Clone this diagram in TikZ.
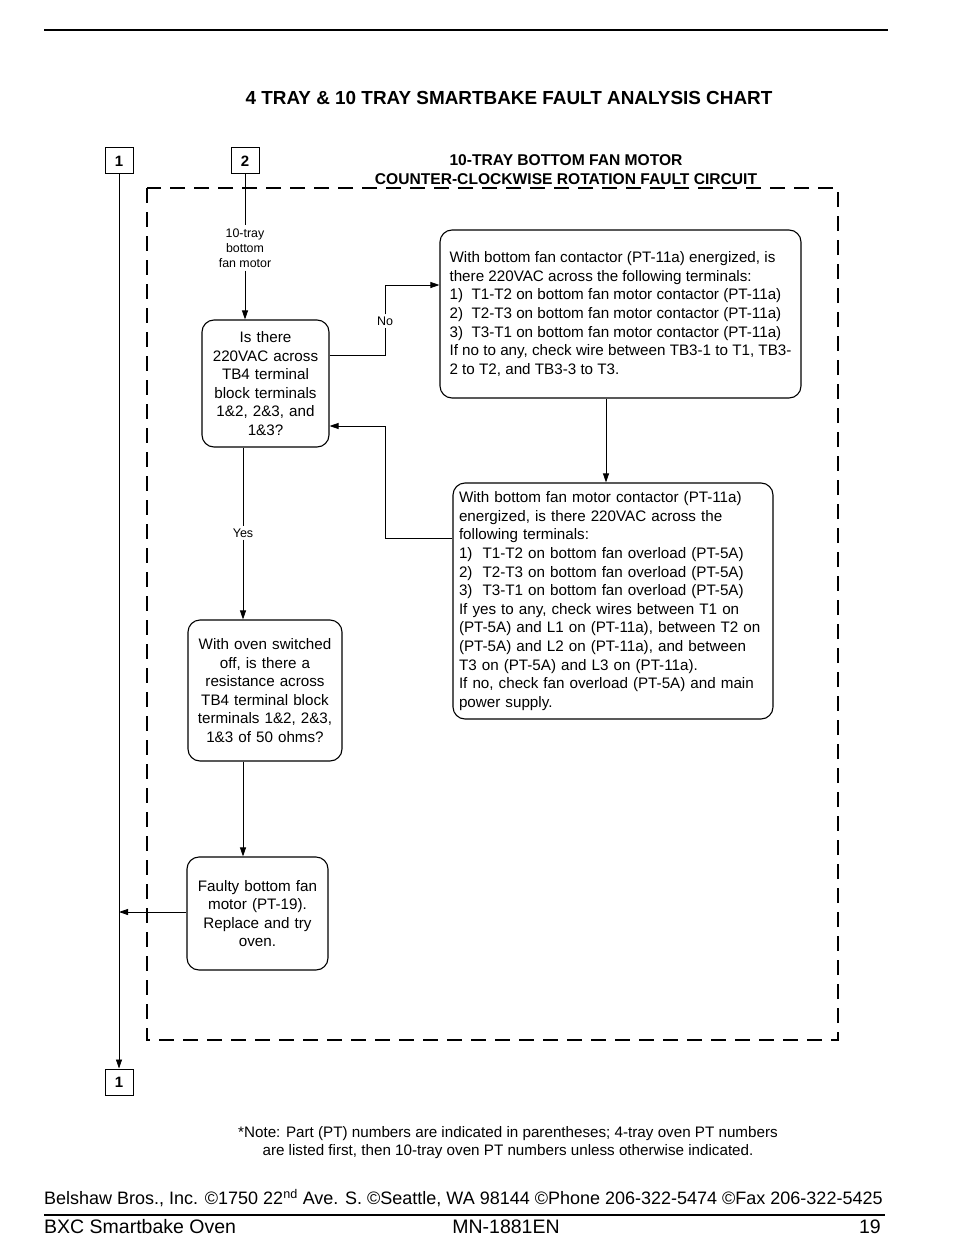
\documentclass[tikz,border=0pt]{standalone}
\usepackage{fontspec}
\setmainfont{Liberation Sans}
\usetikzlibrary{arrows.meta}
\begin{document}
\begin{tikzpicture}[x=1pt,y=-1pt,
  every node/.style={inner sep=0pt},
  body/.style={font=\fontsize{15.2}{18.6}\selectfont},
  rbox/.style={draw, rounded corners=12pt, line width=1.1pt, body},
  lbox/.style={rbox, align=left, inner xsep=6pt},
  cbox/.style={rbox, align=center},
  numbox/.style={draw, line width=1pt, minimum width=28pt, minimum height=26pt, font=\bfseries\fontsize{15}{17}\selectfont},
  conn/.style={line width=0.8pt},
  arr/.style={conn, -{Triangle[length=9pt,width=6pt]}},
  small/.style={font=\fontsize{12.4}{15}\selectfont, align=center},
  lab/.style={font=\fontsize{12.5}{14}\selectfont, inner sep=2pt}
]
\useasboundingbox (0,0) rectangle (954,1260);

% top rule
\coordinate (tr1) at (44,30);
\coordinate (tr2) at (888,30);
\draw[line width=1.4pt] (tr1) -- (tr2);

\node[font=\bfseries\fontsize{18.9}{21}\selectfont] (title) at (509,98) {4 TRAY \& 10 TRAY SMARTBAKE FAULT ANALYSIS CHART};

% dashed frame
\coordinate (f1) at (147,188);
\coordinate (f2) at (838,1040);
\draw[line width=2.8pt, dash pattern=on 15pt off 9pt] (f1) rectangle (f2);

\node[font=\bfseries\fontsize{15.6}{19}\selectfont, align=center] (sub) at (566,170) {10-TRAY BOTTOM FAN MOTOR\\COUNTER-CLOCKWISE ROTATION FAULT CIRCUIT};

% number boxes
\node[numbox] (b1) at (119,161) {1};
\node[numbox] (b2) at (245,161) {2};
\node[numbox] (b1b) at (119,1082) {1};

% label
\node[small, inner sep=3pt] (lbl) at (245,248) {10-tray\\bottom\\fan motor};

% boxes
\node[cbox, minimum width=127pt, minimum height=127pt, text width=122pt] (A) at (265.5,383.5)
  {Is there\\220VAC across\\TB4 terminal\\block terminals\\1\&2, 2\&3, and\\1\&3?};
\node[rbox, align=left, minimum width=361pt, minimum height=168pt] (B) at (620.5,314)
  {With bottom fan contactor (PT-11a) energized, is\\
   there 220VAC across the following terminals:\\
   1)\ \ T1-T2 on bottom fan motor contactor (PT-11a)\\
   2)\ \ T2-T3 on bottom fan motor contactor (PT-11a)\\
   3)\ \ T3-T1 on bottom fan motor contactor (PT-11a)\\
   If no to any, check wire between TB3-1 to T1, TB3-\\
   2 to T2, and TB3-3 to T3.};
\node[lbox, minimum width=320pt, minimum height=236pt, text width=308pt] (C) at (613,601)
  {With bottom fan motor contactor (PT-11a)\\
   energized, is there 220VAC across the\\
   following terminals:\\
   1)\ \ T1-T2 on bottom fan overload (PT-5A)\\
   2)\ \ T2-T3 on bottom fan overload (PT-5A)\\
   3)\ \ T3-T1 on bottom fan overload (PT-5A)\\
   If yes to any, check wires between T1 on\\
   (PT-5A) and L1 on (PT-11a), between T2 on\\
   (PT-5A) and L2 on (PT-11a), and between\\
   T3 on (PT-5A) and L3 on (PT-11a).\\
   If no, check fan overload (PT-5A) and main\\
   power supply.};
\node[cbox, minimum width=154pt, minimum height=141pt, text width=150pt] (D) at (265,690.5)
  {With oven switched\\off, is there a\\resistance across\\TB4 terminal block\\terminals 1\&2, 2\&3,\\1\&3 of 50 ohms?};
\node[cbox, minimum width=141pt, minimum height=113pt, text width=137pt] (E) at (257.5,913.5)
  {Faulty bottom fan\\motor (PT-19).\\Replace and try\\oven.};

\node[lab] (no) at (385,321) {No};
\node[lab] (yes) at (243,533) {Yes};

% connectors
\draw[arr] (b1.south) -- (b1b.north);
\draw[conn] (b2.south) -- (lbl.north);
\draw[arr] (lbl.south) -- (lbl.south |- A.north);

\coordinate (a1) at (385,355);
\coordinate (a2) at (385,285);
\draw[conn] (A.east |- a1) -- (a1) -- (no.south);
\draw[arr] (no.north) -- (a2) -- (B.west |- a2);

\coordinate (c1) at (385,538);
\coordinate (c2) at (385,426);
\draw[arr] (C.west |- c1) -- (c1) -- (c2) -- (A.east |- c2);

\coordinate (bx) at (606,0);
\draw[arr] (bx |- B.south) -- (bx |- C.north);

\draw[conn] (A.south -| yes) -- (yes.north);
\draw[arr] (yes.south) -- (yes |- D.north);

\coordinate (dx) at (243,0);
\draw[arr] (dx |- D.south) -- (dx |- E.north);

\coordinate (e1) at (119,912);
\draw[arr] (E.west |- e1) -- (e1);

% note
\node[font=\fontsize{15.2}{18}\selectfont, align=center] (note) at (508,1143)
  {*Note: Part (PT) numbers are indicated in parentheses; 4-tray oven PT numbers\\
   are listed first, then 10-tray oven PT numbers unless otherwise indicated.};

% footer
\node[font=\fontsize{18}{20}\selectfont, anchor=west] (addr) at (44,1198)
  {Belshaw Bros., Inc. ©1750 22\textsuperscript{nd} Ave. S. ©Seattle, WA 98144 ©Phone 206-322-5474 ©Fax 206-322-5425};
\coordinate (fr1) at (44,1215);
\coordinate (fr2) at (885,1215);
\draw[line width=1.4pt] (fr1) -- (fr2);
\node[font=\fontsize{19.5}{21}\selectfont, anchor=west] (bxc) at (44,1227) {BXC Smartbake Oven};
\node[font=\fontsize{19.5}{21}\selectfont] (mn) at (506,1227) {MN-1881EN};
\node[font=\fontsize{19.5}{21}\selectfont, anchor=east] (pg) at (881,1227) {19};
\end{tikzpicture}
\end{document}
